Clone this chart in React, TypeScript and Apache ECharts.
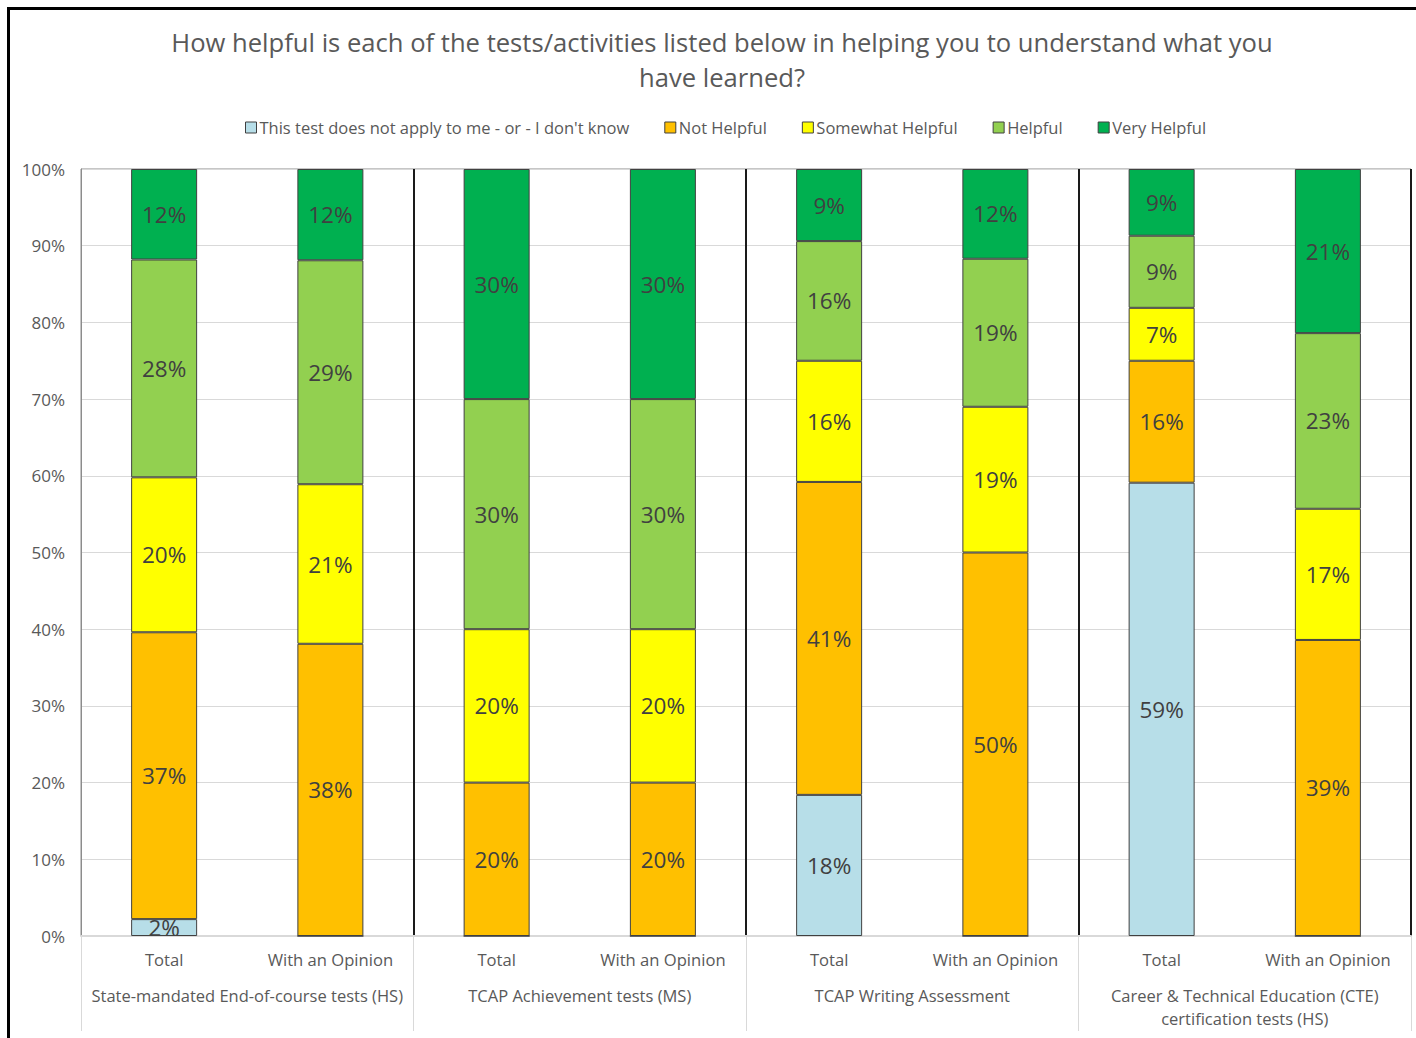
import React, { useEffect, useRef } from "react";
import * as echarts from "echarts";

const categories = [
  "Total", "With an Opinion",
  "Total", "With an Opinion",
  "Total", "With an Opinion",
  "Total", "With an Opinion",
];
const groups = [
  "State-mandated End-of-course tests (HS)",
  "TCAP Achievement tests (MS)",
  "TCAP Writing Assessment",
  "Career & Technical Education (CTE)\ncertification tests (HS)",
];
const seriesNames = [
  "This test does not apply to me - or - I don't know",
  "Not Helpful",
  "Somewhat Helpful",
  "Helpful",
  "Very Helpful",
];
const notApply = [2.2, 0, 0, 0, 18.4, 0, 59.1, 0];
const notHelpful = [37.4, 38.1, 20, 20, 40.8, 50, 15.9, 38.6];
const somewhatHelpful = [20.2, 20.8, 20, 20, 15.8, 19.0, 6.9, 17.1];
const helpful = [28.4, 29.2, 30, 30, 15.6, 19.3, 9.4, 22.9];
const veryHelpful = [11.8, 11.9, 30, 30, 9.4, 11.7, 8.7, 21.4];
const yTicks = [0, 10, 20, 30, 40, 50, 60, 70, 80, 90, 100];

const colors = ["#B7DEE8", "#FFC000", "#FFFF00", "#92D050", "#00B050"];
const FONT = "Open Sans";
const TXT = "#595959";

export default function App() {
  const ref = useRef<HTMLDivElement>(null);
  useEffect(() => {
    if (!ref.current) return;
    const chart = echarts.init(ref.current, null, { renderer: "svg" });
    const data = [notApply, notHelpful, somewhatHelpful, helpful, veryHelpful];
    chart.setOption({
      animation: false,
      textStyle: { fontFamily: FONT },
      title: {
        text: "How helpful is each of the tests/activities listed below in helping you to understand what you\nhave learned?",
        left: 717,
        top: 20,
        textAlign: "center",
        textStyle: { fontFamily: FONT, fontSize: 25.6, fontWeight: "normal", color: TXT, lineHeight: 35 },
      },
      legend: {
        top: 114,
        left: 240,
        itemWidth: 11,
        itemHeight: 11,
        itemGap: 35,
        icon: "rect",
        textStyle: { fontFamily: FONT, fontSize: 16.5, color: TXT, padding: [0, 0, 0, -2] },
        data: seriesNames.map((n) => ({ name: n, itemStyle: { borderColor: "#404040", borderWidth: 1 } })),
      },
      graphic: [
        {
          type: "rect",
          shape: { x: 8.5, y: 8.5, width: 1500, height: 1500 },
          style: { fill: "none", stroke: "#000", lineWidth: 3 },
          silent: true,
        },
      ],
      grid: {
        left: 81, right: 5, top: 169, bottom: 102,
        show: true, borderColor: "#8c8c8c", borderWidth: 1,
      },
      xAxis: [
        {
          type: "category",
          data: categories,
          position: "bottom",
          axisLine: { show: true, lineStyle: { color: "#d9d9d9", width: 2 } },
          axisTick: { show: false },
          axisLabel: { color: TXT, fontSize: 16.6, fontFamily: FONT, margin: 15, interval: 0 },
          splitLine: {
            show: true,
            interval: (index: number) => index === 2 || index === 4 || index === 6,
            lineStyle: { color: "#1a1a1a", width: 2 },
          },
        },
        {
          type: "category",
          data: groups,
          position: "bottom",
          offset: 0,
          axisLine: { show: false },
          axisTick: { show: true, length: 95, lineStyle: { color: "#d9d9d9", width: 1 } },
          axisLabel: { color: TXT, fontSize: 16.5, fontFamily: FONT, margin: 48, lineHeight: 23, interval: 0 },
          splitLine: { show: false },
        },
      ],
      yAxis: {
        type: "value",
        min: yTicks[0],
        max: yTicks[yTicks.length - 1],
        interval: 10,
        axisLabel: { formatter: "{value}%", color: TXT, fontSize: 17, fontFamily: FONT, margin: 16 },
        axisLine: { show: true, lineStyle: { color: "#8c8c8c" } },
        axisTick: { show: false },
        splitLine: { lineStyle: { color: "#d9d9d9" } },
      },
      series: seriesNames.map((name, i) => ({
        name,
        type: "bar",
        stack: "total",
        xAxisIndex: 0,
        barWidth: 66,
        data: data[i],
        itemStyle: { color: colors[i], borderColor: "#404040", borderWidth: 1 },
        label: {
          show: true,
          position: "inside",
          color: "#404040",
          fontSize: 22.5,
          fontFamily: FONT,
          formatter: (p: any) => (p.value > 0 ? Math.round(p.value) + "%" : ""),
        },
      })),
    });
    return () => chart.dispose();
  }, []);
  return (
    <div
      ref={ref}
      style={{ position: "absolute", left: 0, top: 0, width: 1416, height: 1038, background: "#fff" }}
    />
  );
}
